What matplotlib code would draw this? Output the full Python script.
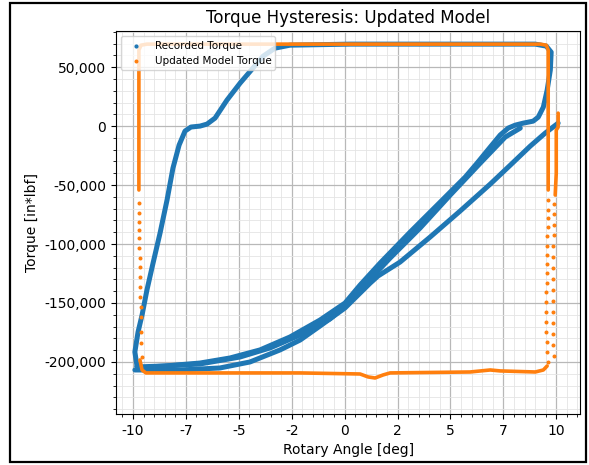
import matplotlib
matplotlib.use("Agg")
import matplotlib.pyplot as plt
from matplotlib.ticker import MultipleLocator, FuncFormatter
from matplotlib.patches import Rectangle

# Recorded torque: hysteresis strands traced as (angle [deg], torque [in*lbf])
rec_loop_angle = [-9.81, -9.91, -9.76, -9.57, -9.34, -9.05, -8.72, -8.39, -8.11, -7.82,
                  -7.54, -7.26, -6.83, -6.50, -6.12, -5.56, -4.94, -4.33, -3.85, -3.29,
                  -2.58, 0.26, 4.99, 9.01, 9.53, 9.76, 9.72, 9.57, 9.39, 9.15,
                  8.91, 8.44, 8.06, 7.73, 7.35, 6.88, 6.26, 5.70, 4.52, 3.10,
                  1.68, 0.73, 0.02, -1.16, -2.58, -4.00, -5.41, -6.83, -8.49, -9.81]
rec_loop_torque = [-203400, -191500, -174600, -160200, -139000, -116100, -90700, -62700, -35600, -16100,
                   -4200, -800, 0, 1700, 6800, 22000, 36400, 49200, 59300, 66100,
                   68600, 69500, 69500, 69500, 67800, 62700, 47500, 30500, 16100, 7600,
                   4200, 2500, 800, -1700, -7600, -17800, -31400, -43200, -64400, -89800,
                   -116100, -134800, -150000, -164400, -178800, -189800, -196600, -200900, -203400, -204200]

rec_low_angle = [-9.91, -7.78, -5.89, -4.47, -3.05, -2.10, -1.16, 0.02, 1.21, 1.58,
                 2.62, 4.04, 5.46, 6.88, 7.83, 8.77, 9.48, 10.09]
rec_low_torque = [-206800, -206800, -205100, -200000, -189800, -181400, -169500, -154200, -133100, -127100,
                  -115300, -94100, -72000, -49200, -33100, -17000, -5900, 2500]

rec_mid_angle = [8.30, 7.59, 6.41, 4.99, 3.57, 2.15, 0.73, 0.02, -0.69, -2.10, -3.52, -4.94, -6.83, -9.20]
rec_mid_torque = [-1700, -9300, -31400, -58500, -86400, -111900, -139000, -152500, -163500, -177100,
                  -188100, -195800, -201700, -204200]

# Updated model torque
mod_frame_angle = [-9.72, -9.72, -9.62, -9.34, 0.26, 9.24, 9.53, 9.62, 9.62]
mod_frame_torque = [-54200, 64400, 68600, 69500, 69500, 69500, 68600, 64400, -54200]

mod_bottom_angle = [-9.67, -9.57, -9.39, -2.10, 0.73, 1.11, 1.44, 1.82, 2.15, 5.93,
                    6.88, 7.35, 9.01, 9.39, 9.57]
mod_bottom_torque = [-198300, -206800, -209300, -209300, -210200, -212700, -213600, -211000, -209300, -208500,
                     -206800, -207600, -208500, -206800, -203400]

mod_tip_angle = [10.09, 10.09, 10.00, 10.00, 9.95]
mod_tip_torque = [11000, -850, -3400, -40000, -58500]

mod_left_angle = [-9.72, -9.72, -9.72, -9.70, -9.70, -9.70, -9.67, -9.67, -9.67, -9.65,
                  -9.65, -9.62, -9.62, -9.60, -9.60, -9.57]
mod_left_torque = [-65300, -73700, -81400, -88100, -94900, -103400, -111900, -119500, -128000, -136400,
                   -144900, -153400, -161900, -174600, -183900, -195800]

mod_right_a_angle = [9.62, 9.62, 9.60, 9.60, 9.57, 9.57, 9.57, 9.55, 9.55, 9.55,
                     9.53, 9.53, 9.53, 9.53, 9.53, 9.55, 9.57, 9.60]
mod_right_a_torque = [-62700, -71200, -78000, -85600, -93200, -101700, -109300, -116900, -124500, -133100,
                      -140700, -149200, -157600, -166100, -174600, -183100, -191500, -200000]

mod_right_b_angle = [9.91, 9.91, 9.88, 9.88, 9.86, 9.86, 9.86, 9.83, 9.83, 9.83,
                     9.83, 9.83, 9.86, 9.86, 9.88]
mod_right_b_torque = [-66100, -74600, -83900, -92400, -101700, -111000, -120400, -129700, -139000, -148300,
                      -157600, -167000, -176300, -185600, -194900]

blue = "#1f77b4"
orange = "#ff7f0e"

fig = plt.figure(figsize=(5.89, 4.65), dpi=100)
ax = fig.add_axes([0.197, 0.110, 0.788, 0.823])

# recorded strands
for a, t in [(rec_loop_angle, rec_loop_torque), (rec_low_angle, rec_low_torque),
             (rec_mid_angle, rec_mid_torque)]:
    ax.plot(a, t, color=blue, lw=3.6, solid_capstyle="round", solid_joinstyle="round", zorder=2)
ax.scatter([], [], s=4, color=blue, label="Recorded Torque")

# model strands
for a, t in [(mod_frame_angle, mod_frame_torque), (mod_bottom_angle, mod_bottom_torque),
             (mod_tip_angle, mod_tip_torque)]:
    ax.plot(a, t, color=orange, lw=2.6, solid_capstyle="round", solid_joinstyle="round", zorder=3)
ax.scatter(mod_left_angle + mod_right_a_angle + mod_right_b_angle,
           mod_left_torque + mod_right_a_torque + mod_right_b_torque,
           s=3.5, color=orange, zorder=3, label="Updated Model Torque")

ax.set_xlim(-10.8, 11.13)
ax.set_ylim(-244000, 80500)
ax.xaxis.set_major_locator(MultipleLocator(2.5))
ax.yaxis.set_major_locator(MultipleLocator(50000))
ax.xaxis.set_major_formatter(FuncFormatter(lambda v, p: str(int(v))))
ax.yaxis.set_major_formatter(FuncFormatter(lambda v, p: f"{v:,.0f}"))
ax.minorticks_on()
ax.grid(which="major", color="#b8b8b8", lw=0.9)
ax.grid(which="minor", color="#e4e4e4", lw=0.6)
ax.set_axisbelow(True)
ax.tick_params(labelsize=10)

ax.set_title("Torque Hysteresis: Updated Model", fontsize=12)
ax.set_xlabel("Rotary Angle [deg]", fontsize=10)
ax.set_ylabel("Torque [in*lbf]", fontsize=10)
ax.legend(loc="upper left", fontsize=7.5)

# frame around the figure
fig.patches.append(Rectangle((10 / 589, 3 / 465), 576 / 589, 459 / 465, transform=fig.transFigure,
                             fill=False, edgecolor="black", lw=1.6))

fig.savefig("out.png", dpi=100)
